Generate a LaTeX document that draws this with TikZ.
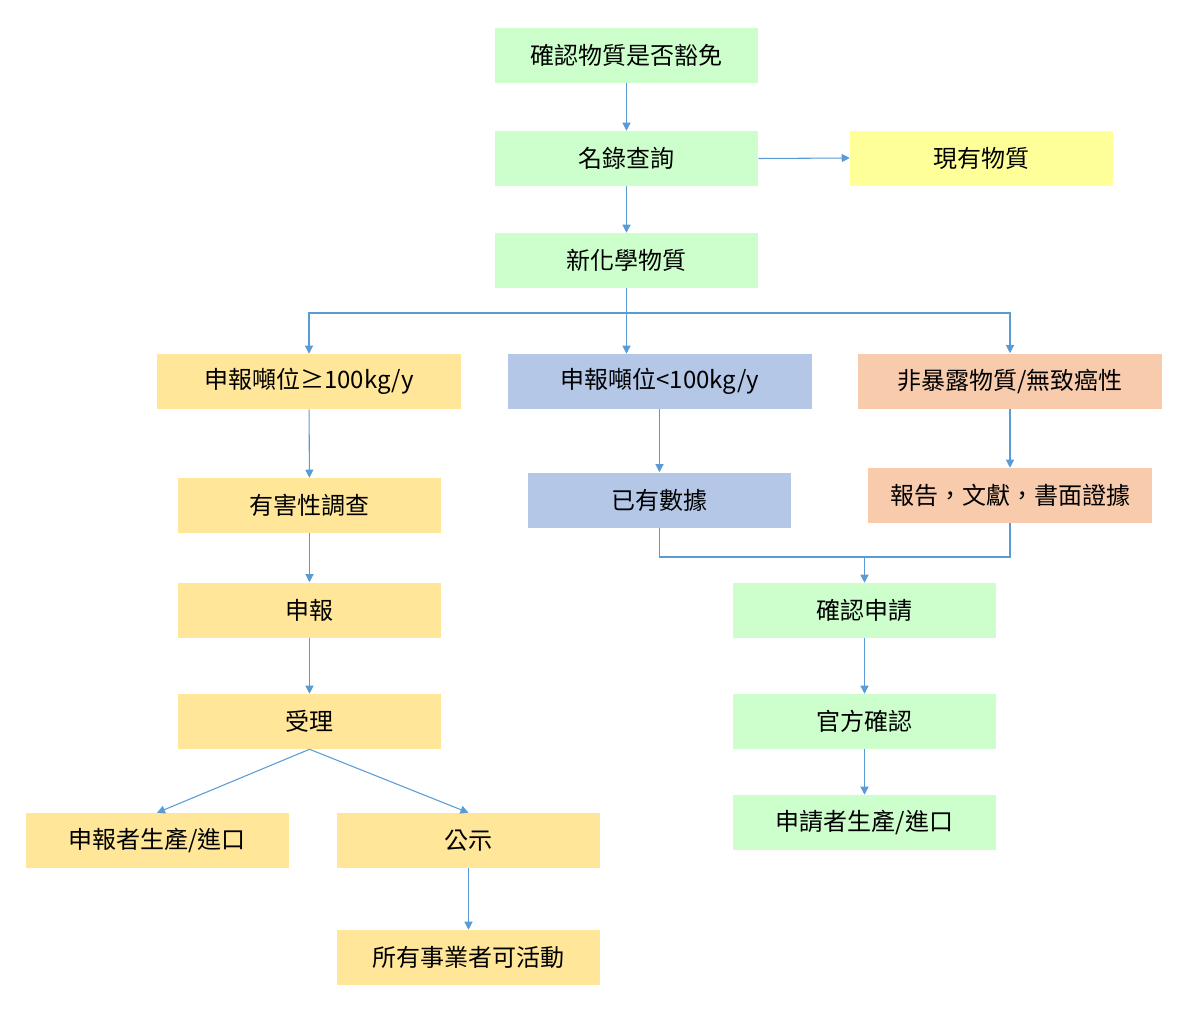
\documentclass[tikz,border=0pt]{standalone}
\usepackage{fontspec}
\setmainfont{Noto Sans CJK TC}
\usetikzlibrary{arrows.meta}
\definecolor{gr}{HTML}{CCFFCC}
\definecolor{ye}{HTML}{FFFF99}
\definecolor{og}{HTML}{FFE699}
\definecolor{bl}{HTML}{B4C7E7}
\definecolor{sa}{HTML}{F8CBAD}
\definecolor{lc}{HTML}{5B9BD5}
\begin{document}
\begin{tikzpicture}[x=0.75pt,y=-0.75pt,
 box/.style={inner sep=0pt,minimum width=197.25pt,minimum height=41.25pt,font=\fontsize{18}{20}\selectfont},
 wide/.style={box,minimum width=228pt},
 arr/.style={draw=lc,line width=0.8pt,-{Triangle[length=6pt,width=6pt]}},
 lnk/.style={draw=lc,line width=0.8pt}]
\useasboundingbox (0,0) rectangle (1183,1014);
\node[box,fill=gr] (A) at (626.5,55) {確認物質是否豁免};
\node[box,fill=gr] (B) at (626.5,158.5) {名錄查詢};
\node[box,fill=ye] (C) at (981.5,158) {現有物質};
\node[box,fill=gr] (D) at (626.5,260.5) {新化學物質};
\node[wide,fill=og] (E) at (309,381.5) {申報噸位≥100kg/y};
\node[wide,fill=bl] (F) at (660,381.5) {申報噸位<100kg/y};
\node[wide,fill=sa] (G) at (1010,381) {非暴露物質/無致癌性};
\node[box,fill=og] (H) at (309.5,505.5) {有害性調查};
\node[box,fill=bl] (I) at (659.5,500) {已有數據};
\node[box,fill=sa,minimum width=213pt] (J) at (1010,495.5) {報告，文獻，書面證據};
\node[box,fill=og] (K) at (309.5,610) {申報};
\node[box,fill=gr] (L) at (864.5,610.5) {確認申請};
\node[box,fill=og] (M) at (309.5,721.5) {受理};
\node[box,fill=gr] (N) at (864.5,721.5) {官方確認};
\node[box,fill=og] (O) at (157,840.5) {申報者生產/進口};
\node[box,fill=og] (P) at (468.5,840.5) {公示};
\node[box,fill=gr] (Q) at (864.5,822.5) {申請者生產/進口};
\node[box,fill=og] (R) at (468.5,957.5) {所有事業者可活動};
\coordinate (s) at (626.5,313);
\coordinate (m) at (864.5,557);
\draw[arr] (A) -- (B);
\draw[arr] (B.east) -- (C.west);
\draw[arr] (B) -- (D);
\draw[lnk] (D.south) -- (s);
\draw[arr] (s) -| (E.north);
\draw[arr] (s) -- (F.north -| s);
\draw[arr] (s) -| (G.north);
\draw[arr] (E) -- (H);
\draw[arr] (F.south -| I) -- (I);
\draw[arr] (G) -- (J);
\draw[lnk] (I.south) |- (m);
\draw[lnk] (J.south) |- (m);
\draw[arr] (m) -- (L.north);
\draw[arr] (H) -- (K);
\draw[arr] (K) -- (M);
\draw[arr] (L) -- (N);
\draw[arr] (N) -- (Q);
\draw[arr] (M.south) -- (O.north);
\draw[arr] (M.south) -- (P.north);
\draw[arr] (P) -- (R);
\end{tikzpicture}
\end{document}
